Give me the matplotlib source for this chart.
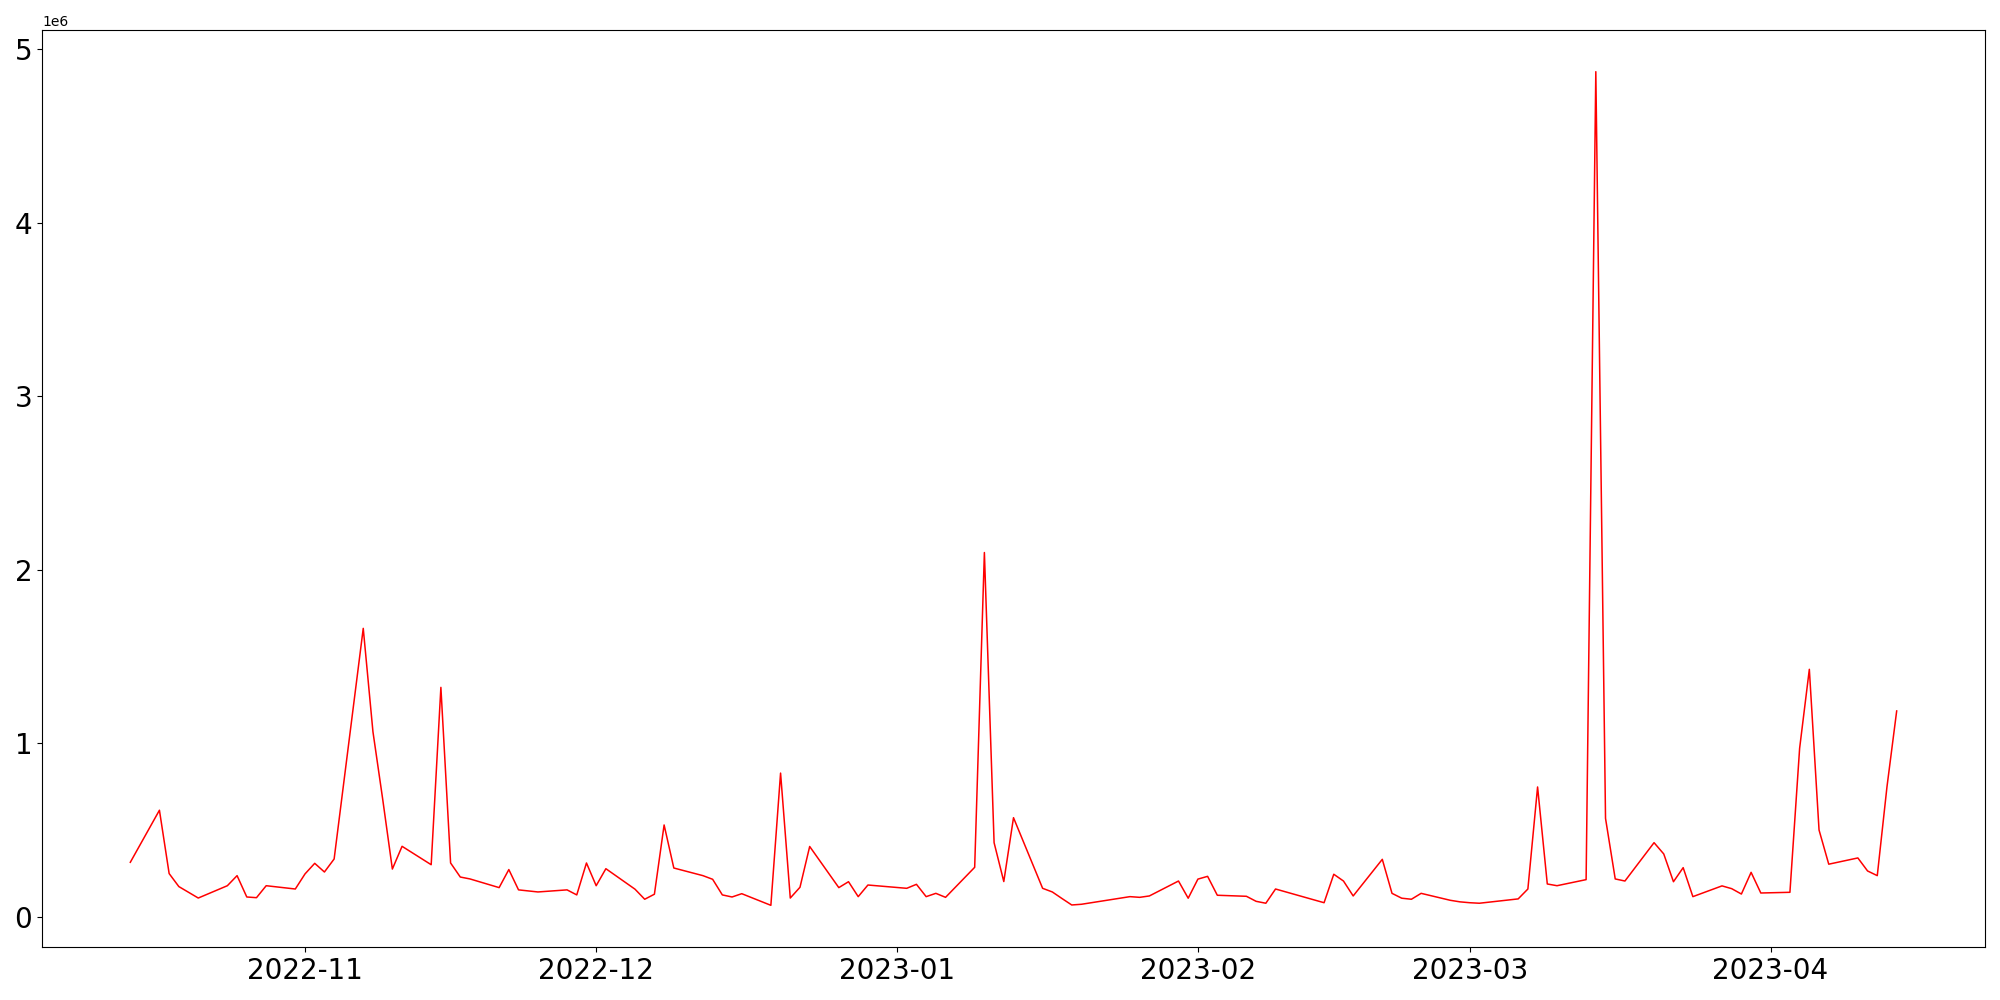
import matplotlib
matplotlib.use("Agg")
import matplotlib.pyplot as plt
import pandas as pd

dates = [
    "2022-10-14", "2022-10-17", "2022-10-18", "2022-10-19", "2022-10-21",
    "2022-10-24", "2022-10-25", "2022-10-26", "2022-10-27", "2022-10-28",
    "2022-10-31", "2022-11-01", "2022-11-02", "2022-11-03", "2022-11-04",
    "2022-11-07", "2022-11-08", "2022-11-09", "2022-11-10", "2022-11-11",
    "2022-11-14", "2022-11-15", "2022-11-16", "2022-11-17", "2022-11-18",
    "2022-11-21", "2022-11-22", "2022-11-23", "2022-11-25",
    "2022-11-28", "2022-11-29", "2022-11-30", "2022-12-01", "2022-12-02",
    "2022-12-05", "2022-12-06", "2022-12-07", "2022-12-08", "2022-12-09",
    "2022-12-12", "2022-12-13", "2022-12-14", "2022-12-15", "2022-12-16",
    "2022-12-19", "2022-12-20", "2022-12-21", "2022-12-22", "2022-12-23",
    "2022-12-26", "2022-12-27", "2022-12-28", "2022-12-29",
    "2023-01-02", "2023-01-03", "2023-01-04", "2023-01-05", "2023-01-06",
    "2023-01-09", "2023-01-10", "2023-01-11", "2023-01-12", "2023-01-13",
    "2023-01-16", "2023-01-17", "2023-01-18", "2023-01-19", "2023-01-20",
    "2023-01-25", "2023-01-26", "2023-01-27",
    "2023-01-30", "2023-01-31", "2023-02-01", "2023-02-02", "2023-02-03",
    "2023-02-06", "2023-02-07", "2023-02-08", "2023-02-09",
    "2023-02-14", "2023-02-15", "2023-02-16", "2023-02-17",
    "2023-02-20", "2023-02-21", "2023-02-22", "2023-02-23", "2023-02-24",
    "2023-02-27", "2023-02-28", "2023-03-01", "2023-03-02",
    "2023-03-06", "2023-03-07", "2023-03-08", "2023-03-09", "2023-03-10",
    "2023-03-13", "2023-03-14", "2023-03-15", "2023-03-16", "2023-03-17",
    "2023-03-20", "2023-03-21", "2023-03-22", "2023-03-23", "2023-03-24",
    "2023-03-27", "2023-03-28", "2023-03-29", "2023-03-30", "2023-03-31",
    "2023-04-03", "2023-04-04", "2023-04-05", "2023-04-06", "2023-04-07",
    "2023-04-10", "2023-04-11", "2023-04-12", "2023-04-13", "2023-04-14",
]

values = [
    315000, 615000, 250000, 175000, 109000,
    180000, 238000, 115000, 111000, 180000,
    161000, 248000, 309000, 259000, 334000,
    1663000, 1067000, 680000, 276000, 407000,
    301000, 1323000, 311000, 230000, 219000,
    169000, 273000, 156000, 144000,
    156000, 127000, 311000, 180000, 278000,
    160000, 102000, 131000, 530000, 282000,
    238000, 217000, 127000, 115000, 134000,
    67000, 829000, 109000, 171000, 406000,
    169000, 203000, 117000, 184000,
    165000, 188000, 117000, 136000, 113000,
    286000, 2100000, 428000, 204000, 572000,
    165000, 144000, 106000, 69000, 73000,
    117000, 113000, 121000,
    207000, 108000, 218000, 234000, 125000,
    119000, 90000, 79000, 161000,
    82000, 246000, 207000, 121000,
    332000, 136000, 108000, 102000, 136000,
    96000, 87000, 82000, 79000,
    104000, 161000, 749000, 190000, 180000,
    215000, 4871000, 568000, 219000, 207000,
    428000, 363000, 203000, 284000, 117000,
    179000, 163000, 132000, 257000, 138000,
    142000, 972000, 1427000, 501000, 304000,
    340000, 265000, 238000, 750000, 1187000,
]

x = pd.to_datetime(dates)

fig = plt.figure(figsize=(20, 10), dpi=100)
ax = fig.add_axes([0.021, 0.053, 0.9715, 0.917])
ax.plot(x, values, color="red", linewidth=1.1)
ax.tick_params(axis="both", labelsize=20)
fig.savefig("out.png", dpi=100)
